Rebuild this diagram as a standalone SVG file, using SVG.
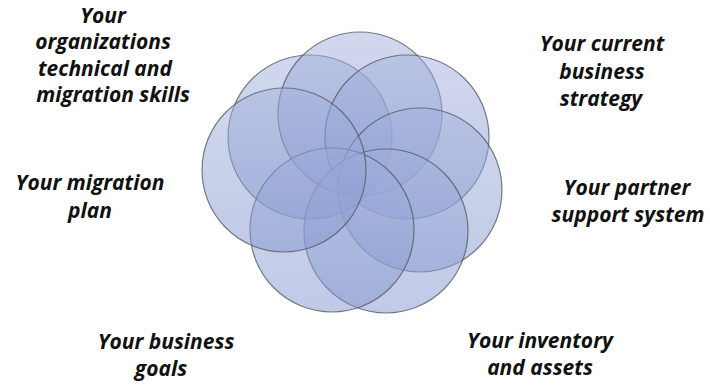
<svg xmlns="http://www.w3.org/2000/svg" width="710" height="386" viewBox="0 0 710 386">
  <defs>
    <linearGradient id="fillGrad" x1="0" y1="0" x2="0" y2="1">
      <stop offset="0" stop-color="#a3b1dc"/>
      <stop offset="1" stop-color="#8294cd"/>
    </linearGradient>
    <style>
      .c { fill: url(#fillGrad); fill-opacity: 0.5; stroke: #4f5560; stroke-opacity: 0.75; stroke-width: 1.2; }
      .t { font-family: "Open Sans", "Noto Sans", "Liberation Sans", sans-serif; font-weight: bold; font-style: italic; font-size: 21px; fill: #111; text-anchor: middle; }
    </style>
  </defs>
  <rect width="710" height="386" fill="#ffffff"/>
  <g id="circles">
    <g id="circle-skills"><circle class="c" cx="310" cy="137" r="82"/></g>
    <g id="circle-top"><circle class="c" cx="360" cy="114" r="82"/></g>
    <g id="circle-strategy"><circle class="c" cx="407" cy="137" r="82"/></g>
    <g id="circle-partner"><circle class="c" cx="420" cy="190" r="82"/></g>
    <g id="circle-inventory"><circle class="c" cx="386" cy="231" r="82"/></g>
    <g id="circle-goals"><circle class="c" cx="332" cy="230" r="82"/></g>
    <g id="circle-plan"><circle class="c" cx="284" cy="170" r="82"/></g>
  </g>
  <g id="label-skills">
    <text class="t" x="103" y="23">Your</text>
    <text class="t" x="103" y="49">organizations</text>
    <text class="t" x="105" y="76">technical and</text>
    <text class="t" x="113" y="102">migration skills</text>
  </g>
  <g id="label-strategy">
    <text class="t" x="602" y="51">Your current</text>
    <text class="t" x="602" y="79">business</text>
    <text class="t" x="601" y="106">strategy</text>
  </g>
  <g id="label-partner">
    <text class="t" x="627" y="195">Your partner</text>
    <text class="t" x="628" y="222">support system</text>
  </g>
  <g id="label-plan">
    <text class="t" x="90" y="190">Your migration</text>
    <text class="t" x="90" y="218">plan</text>
  </g>
  <g id="label-goals">
    <text class="t" x="166" y="349">Your business</text>
    <text class="t" x="161" y="376">goals</text>
  </g>
  <g id="label-inventory">
    <text class="t" x="540" y="348">Your inventory</text>
    <text class="t" x="540" y="375">and assets</text>
  </g>
</svg>
